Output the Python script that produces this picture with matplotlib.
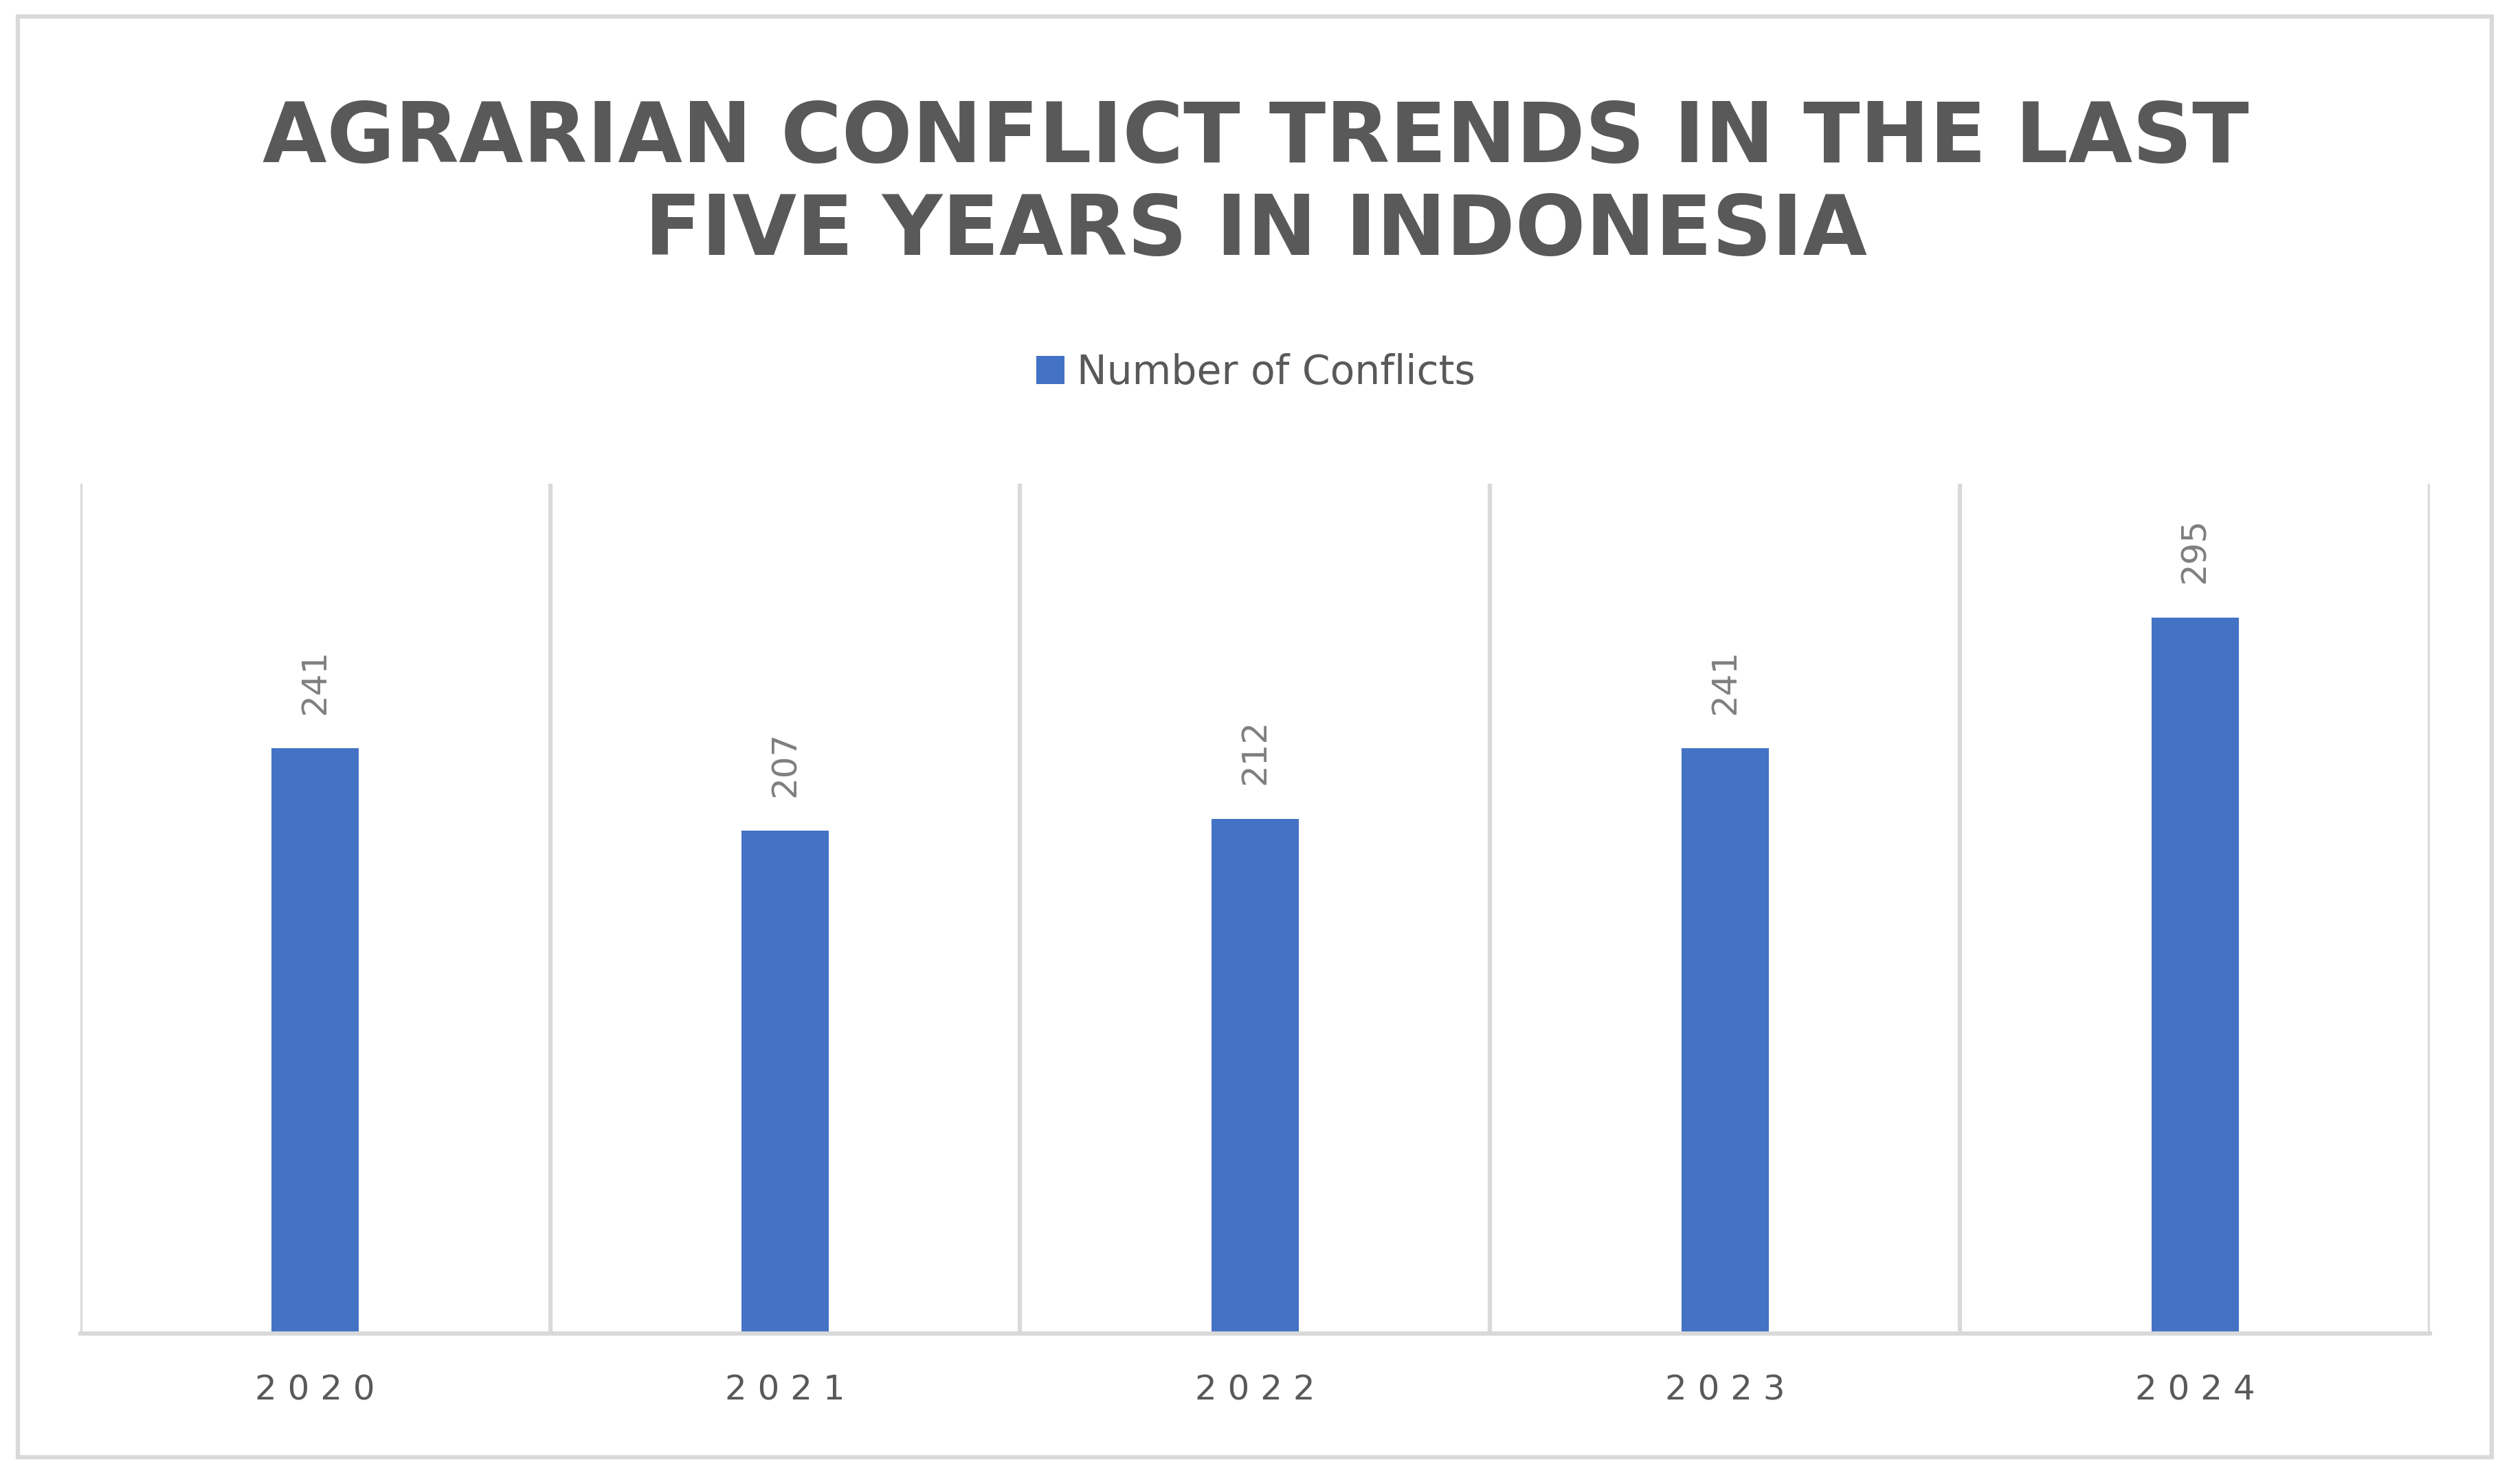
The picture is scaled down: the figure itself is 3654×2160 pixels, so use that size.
import matplotlib.pyplot as plt
from matplotlib.patches import Rectangle

years = ['2020', '2021', '2022', '2023', '2024']
conflicts = [241, 207, 212, 241, 295]

fig = plt.figure(figsize=(12.1833, 7.2), dpi=300)
fig.patches.append(Rectangle((0.007, 0.018), 0.985, 0.971, transform=fig.transFigure,
                             fill=False, edgecolor='#d9d9d9', linewidth=1.5))

ax = fig.add_axes([0.0319, 0.1014, 0.9356, 0.5726])
x = range(len(years))
bars = ax.bar(x, conflicts, width=0.185, color='#4472c4', label='Number of Conflicts')
ax.set_xlim(-0.5, len(years) - 0.5)
ax.set_ylim(0, 350)

for xi, v in zip(x, conflicts):
    ax.text(xi, v + 14, str(v), rotation=90, ha='center', va='bottom',
            fontsize=12, color='#7f7f7f')

# separadores verticales entre categorias
for b in [i - 0.5 for i in range(len(years) + 1)]:
    ax.axvline(b, color='#d9d9d9', linewidth=1.5, zorder=0)

ax.set_xticks(list(x))
ax.set_xticklabels([' '.join(y) for y in years], fontsize=12, color='#595959')
ax.tick_params(length=0, pad=14)
ax.set_yticks([])
for s in ['top', 'left', 'right']:
    ax.spines[s].set_visible(False)
ax.spines['bottom'].set_color('#d9d9d9')
ax.spines['bottom'].set_linewidth(1.5)

fig.text(0.5, 0.875, 'AGRARIAN CONFLICT TRENDS IN THE LAST\nFIVE YEARS IN INDONESIA',
         ha='center', va='center', fontsize=29, fontweight='bold', color='#595959',
         linespacing=1.2)

fig.legend(loc='center', bbox_to_anchor=(0.5, 0.749), frameon=False, fontsize=14,
           handlelength=0.7, handleheight=0.7, handletextpad=0.3, labelcolor='#595959')

fig.savefig('out.png')
